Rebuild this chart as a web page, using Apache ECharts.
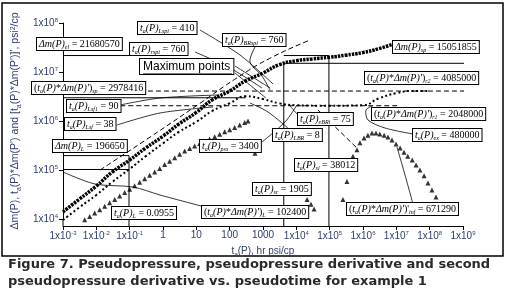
<!DOCTYPE html>
<html lang="en">
  <head>
    <meta charset="UTF-8" />
    <title>Figure 7</title>
    <script src="https://cdn.jsdelivr.net/npm/echarts@6/dist/echarts.min.js"></script>
  </head>
  <body style="margin: 0">
    <div id="main" style="width: 507px; height: 298px"></div>
    <script>
      // Δm(P) - thick square dots
      var dmTime = [0.001, 0.003, 0.01, 0.03, 0.1, 0.3, 1, 3, 10, 30, 100, 300, 1000, 3000, 1e4, 3e4, 1e5, 3e5, 1e6, 3e6, 1e7];
      var dmVals = [1.4e4, 2.5e4, 4.7e4, 9.1e4, 1.6e5, 2.8e5, 4.9e5, 8.7e5, 1.5e6, 2.7e6, 4.1e6, 6.6e6, 9.5e6, 1.4e7, 1.7e7, 1.85e7, 2.0e7, 2.2e7, 2.5e7, 3.0e7, 3.9e7];

      // ta(P)*Δm(P)' - small dots
      var derTime = [0.001, 0.003, 0.01, 0.03, 0.1, 0.3, 1, 3, 10, 30, 100, 300, 1000, 3000, 1e4, 1e5, 1e6, 3e6, 1e7, 3e7, 1e8];
      var derVals = [9.5e3, 1.7e4, 3.1e4, 5.7e4, 1.05e5, 1.9e5, 3.5e5, 6.0e5, 9.6e5, 1.6e6, 2.3e6, 3.2e6, 2.8e6, 2.3e6, 2.1e6, 2.05e6, 2.1e6, 2.9e6, 3.7e6, 4.1e6, 4.1e6];

      // [ta(P)*Δm(P)']' - triangles
      var d2Time = [0.00447, 0.00631, 0.00891, 0.0126, 0.0178, 0.0251, 0.0355, 0.0501, 0.0708, 0.1, 0.141, 0.2, 0.282, 0.398, 0.562, 0.794, 1.12, 1.58, 2.24, 3.16, 4.47, 6.31, 8.91, 12.6, 17.8, 25.1, 35.5, 50.1, 70.8, 100, 141, 200, 282, 355, 575, 2.1e4, 2.75e4, 3.4e4, 2.5e5, 3.3e5, 5.0e5, 6.6e5, 8.1e5, 1.07e6, 1.4e6, 1.86e6, 2.45e6, 3.2e6, 4.3e6, 5.6e6, 7.4e6, 9.8e6, 1.3e7, 1.7e7, 2.2e7, 3.0e7, 3.9e7, 5.1e7, 6.8e7, 8.9e7, 1.17e8, 1.55e8];
      var d2Vals = [9.6e3, 1.12e4, 1.32e4, 1.55e4, 1.82e4, 2.14e4, 2.51e4, 2.95e4, 3.47e4, 4.07e4, 4.79e4, 5.62e4, 6.6e4, 7.8e4, 9.1e4, 1.07e5, 1.29e5, 1.51e5, 1.78e5, 2.09e5, 2.45e5, 2.75e5, 3.09e5, 3.47e5, 3.8e5, 4.27e5, 4.79e5, 5.37e5, 6.0e5, 6.6e5, 7.4e5, 8.3e5, 9.3e5, 1.0e6, 2.2e5, 2.5e4, 2.0e4, 1.6e4, 2.5e4, 5.8e4, 1.9e5, 2.6e5, 3.6e5, 4.5e5, 5.1e5, 5.7e5, 5.7e5, 5.4e5, 5.1e5, 4.7e5, 4.1e5, 3.4e5, 2.8e5, 2.3e5, 1.9e5, 1.6e5, 1.26e5, 1.0e5, 7.6e4, 5.4e4, 3.9e4, 2.8e4];

      // long dashed guides
      var guideATime = [0.0129, 0.41, 12.9, 166, 1600, 2.6e4];
      var guideAVals = [1.0e5, 4.7e5, 2.3e6, 7.6e6, 1.9e7, 4.5e7];
      var guideBTime = [4.5e4, 6.6e5];
      var guideBVals = [1.66e6, 2.8e5];

      // annotated values
      var tL = 0.0955, dmL = 196650, derL = 102400, derSp = 2978416;
      var derR1 = 2048000, derR2 = 4085000, dmSp = 15051855, dmEl = 21680570;
      var tGuide1 = 4200, tGuide2 = 95000; // vertical lines
      var floorY = 7200; // axis line sits a little below 1x10^4

      var navy = "#2f3d6e";
      var chart = echarts.init(document.getElementById("main"));

      function pairs(xs, ys) {
        return xs.map(function (x, i) {
          return [x, ys[i]];
        });
      }

      function refLine(pts, dashed) {
        return {
          type: "line",
          data: pts,
          symbol: "none",
          clip: false,
          silent: true,
          z: 1,
          lineStyle: { color: "#000", width: 1, type: dashed ? [5, 3] : "solid" },
        };
      }

      var rich = {
        v: { fontFamily: "Liberation Serif", fontStyle: "italic", fontSize: 10, lineHeight: 11 },
        n: { fontFamily: "Liberation Serif", fontSize: 10, lineHeight: 11 },
        s: { fontFamily: "Liberation Serif", fontStyle: "italic", fontSize: 6, lineHeight: 11, verticalAlign: "bottom" },
      };

      function box(x, y, txt) {
        return {
          type: "text",
          x: x,
          y: y,
          z: 100,
          style: {
            text: txt,
            rich: rich,
            fill: "#000",
            backgroundColor: "#fff",
            borderColor: "#000",
            borderWidth: 1,
            padding: [1, 2, 0, 2],
          },
        };
      }

      function lead(pts) {
        return {
          type: "polyline",
          z: 50,
          shape: { points: pts, smooth: 0.3 },
          style: { stroke: "#000", lineWidth: 0.8, fill: null },
        };
      }

      var ta = "{v|t}{s|a}{v|(P)}";
      var taDm = "{n|(}" + ta + "{n|*}{v|Δm(P)'}{n|)}";

      function expLabel(v) {
        var e = Math.round(Math.log10(v));
        if (e >= 0 && e <= 3) return "{a|" + Math.pow(10, e) + "}";
        return "{a|1x10}{b|" + e + "}";
      }

      var axisRich = {
        a: { fontFamily: "Liberation Sans", fontSize: 10, color: navy },
        b: { fontFamily: "Liberation Sans", fontSize: 6, color: navy, verticalAlign: "top", lineHeight: 12 },
      };

      var option = {
        animation: false,
        grid: { left: 63, right: 44, top: 23, bottom: 79 },
        xAxis: {
          type: "log",
          logBase: 10,
          min: 0.001,
          max: 1e9,
          interval: 1,
          offset: 7,
          splitLine: { show: false },
          axisLine: { lineStyle: { color: "#000", width: 1 } },
          axisTick: { length: 4, interval: 0, lineStyle: { color: "#000" } },
          axisLabel: { margin: 4, interval: 0, hideOverlap: false, formatter: expLabel, rich: axisRich },
          name: "{n|t}{s|a}{n|(P), hr psi/cp}",
          nameLocation: "middle",
          nameGap: 14,
          nameTextStyle: {
            rich: {
              n: { fontFamily: "Liberation Sans", fontSize: 10, color: navy },
              s: { fontFamily: "Liberation Sans", fontSize: 6, color: navy, verticalAlign: "bottom", lineHeight: 12 },
            },
          },
        },
        yAxis: {
          type: "log",
          logBase: 10,
          min: 1e4,
          max: 1e8,
          interval: 1,
          splitLine: { show: false },
          axisLine: { lineStyle: { color: "#000", width: 1 } },
          axisTick: { length: 4, lineStyle: { color: "#000" } },
          axisLabel: { margin: 5, formatter: expLabel, rich: axisRich },
          name: "{n|Δm(P), t}{s|a}{n|(P)*Δm(P') and [t}{s|a}{n|(P)*Δm(P')]', psi}{u|2}{n|/cp}",
          nameLocation: "middle",
          nameGap: 40,
          nameTextStyle: {
            rich: {
              n: { fontFamily: "Liberation Sans", fontSize: 10.5, color: navy },
              s: { fontFamily: "Liberation Sans", fontSize: 7, color: navy, verticalAlign: "bottom", lineHeight: 13 },
              u: { fontFamily: "Liberation Sans", fontSize: 7, color: navy, verticalAlign: "top", lineHeight: 13 },
            },
          },
        },
        series: [
          {
            type: "line",
            data: pairs(dmTime, dmVals),
            smooth: true,
            symbol: "none",
            clip: false,
            z: 5,
            lineStyle: { color: "#000", width: 3.5, type: [2.5, 1], cap: "butt" },
          },
          {
            type: "line",
            data: pairs(derTime, derVals),
            smooth: true,
            symbol: "none",
            clip: false,
            z: 5,
            lineStyle: { color: "#000", width: 2, type: [2, 2.5], cap: "butt" },
          },
          {
            type: "scatter",
            data: pairs(d2Time, d2Vals),
            symbol: "triangle",
            symbolSize: 5,
            clip: false,
            z: 5,
            itemStyle: { color: "#000" },
          },
          Object.assign(refLine(pairs(guideATime, guideAVals), true), { smooth: true }),
          refLine(pairs(guideBTime, guideBVals), true),
          refLine([[0.001, derSp], [300, derSp]], false),
          refLine([[0.117, derR2], [6e9, derR2]], true),
          refLine([[0.03, derR1], [1.2e7, derR1]], true),
          refLine([[tGuide1, dmSp], [4e9, dmSp]], false),
          refLine([[0.001, dmEl], [0.1, dmEl]], false),
          refLine([[tGuide1, dmEl], [tGuide2, dmEl]], false),
          refLine([[0.001, dmL], [tL, dmL]], false),
          refLine([[0.001, derL], [tL, derL]], false),
          refLine([[tL, dmL], [tL, floorY]], false),
          refLine([[tGuide1, dmSp], [tGuide1, floorY]], false),
          refLine([[tGuide2, dmEl], [tGuide2, floorY]], false),
        ],
        graphic: [
          { type: "rect", z: 0, shape: { x: 2, y: 3, width: 501, height: 253 }, style: { stroke: "#000", lineWidth: 1.5, fill: null } },
          { type: "line", z: 10, shape: { x1: 63, y1: 219, x2: 63, y2: 226 }, style: { stroke: "#000", lineWidth: 1 } },
          // leader lines
          lead([[200, 30], [240, 55], [273, 84]]),
          lead([[195, 52], [230, 68], [262, 88]]),
          lead([[255, 47], [250, 62], [262, 76], [270, 90]]),
          lead([[235, 66], [270, 88]]),
          lead([[235, 73], [266, 98]]),
          lead([[120, 105], [160, 98], [218, 95]]),
          lead([[117, 125], [160, 113], [213, 107]]),
          lead([[205, 207], [160, 195], [133, 187], [95, 184], [63, 172]]),
          lead([[262, 142], [285, 122], [297, 105]]),
          lead([[290, 130], [268, 112], [250, 103]]),
          lead([[298, 115], [290, 106]]),
          lead([[413, 204], [405, 175], [397, 147]]),
          lead([[413, 134], [385, 128], [368, 120], [366, 110], [372, 106]]),
          // boxes
          box(37, 38, "{v|Δm(P)}{s|el}{n| = 21680570}"),
          box(138, 22, ta + "{s|Lspi}{n| = 410}"),
          box(130, 43, ta + "{s|rspi}{n| = 760}"),
          box(223, 34, ta + "{s|BRspi}{n| = 760}"),
          {
            type: "text",
            x: 140,
            y: 59,
            z: 100,
            style: {
              text: "Maximum points",
              font: '12px "Liberation Sans"',
              fill: "#000",
              backgroundColor: "#fff",
              borderColor: "#000",
              borderWidth: 1,
              padding: [2, 3, 1, 3],
            },
          },
          { type: "line", z: 101, shape: { x1: 143, y1: 74, x2: 232, y2: 74 }, style: { stroke: "#000", lineWidth: 1 } },
          box(32, 82, taDm + "{s|sp}{n| = 2978416}"),
          box(67, 100, ta + "{s|Lsf1}{n| = 90}"),
          box(65, 118, ta + "{s|Lsf}{n| = 38}"),
          box(53, 140, "{v|Δm(P)}{s|L}{n| = 196650}"),
          box(112, 207, ta + "{s|L}{n| = 0.0955}"),
          box(202, 206, taDm + "{s|L}{n| = 102400}"),
          box(253, 183, ta + "{s|sr}{n| = 1905}"),
          box(200, 140, ta + "{s|pss}{n| = 3400}"),
          box(273, 129, ta + "{s|LBR}{n| = 8}"),
          box(298, 113, ta + "{s|eBRi}{n| = 75}"),
          box(295, 159, ta + "{s|sl}{n| = 38012}"),
          box(347, 203, "{n|(}" + ta + "{n|*}{v|Δm(P)'}{n|)'}{s|inf}{n| = 671290}"),
          box(413, 129, ta + "{s|ex}{n| = 480000}"),
          box(372, 108, taDm + "{s|r1}{n| = 2048000}"),
          box(365, 72, taDm + "{s|r2}{n| = 4085000}"),
          box(393, 41, "{v|Δm(P)}{s|sp}{n| = 15051855}"),
          // caption
          {
            type: "text",
            x: 8,
            y: 258,
            style: { text: "Figure 7. Pseudopressure, pseudopressure derivative and second", font: 'bold 13px "DejaVu Sans"', fill: "#2a2a2a" },
          },
          {
            type: "text",
            x: 8,
            y: 275,
            style: { text: "pseudopressure derivative vs. pseudotime for example 1", font: 'bold 13px "DejaVu Sans"', fill: "#2a2a2a" },
          },
        ],
      };
      chart.setOption(option);
    </script>
  </body>
</html>
